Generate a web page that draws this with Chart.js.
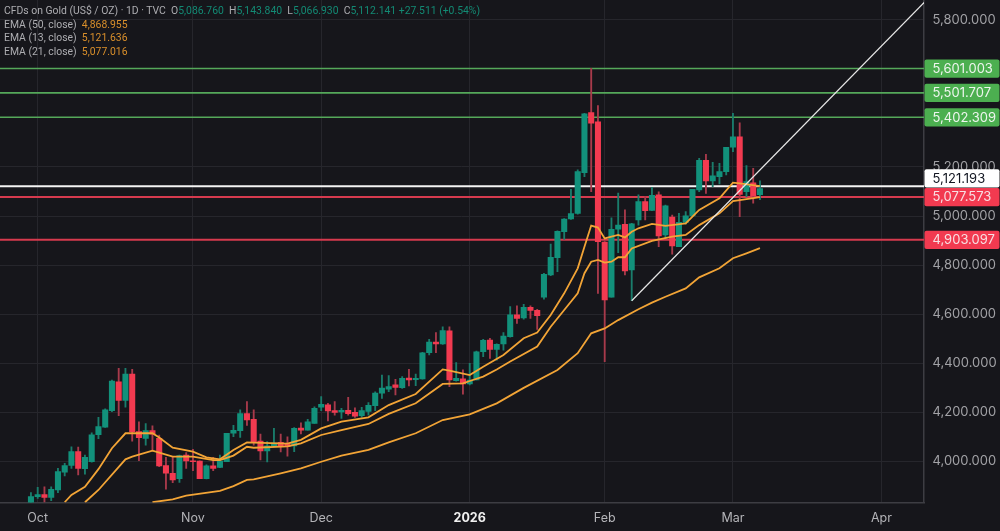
<!DOCTYPE html>
<html>
<head>
<meta charset="utf-8">
<title>CFDs on Gold</title>
<script src="https://cdn.jsdelivr.net/npm/chart.js@4/dist/chart.umd.min.js"></script>
<style>
    html, body { margin: 0; padding: 0; background: #16161b; overflow: hidden; }
    #wrap { position: relative; width: 1000px; height: 531px; }
    canvas { display: block; }
    #legend { position: absolute; left: 4px; top: 4px; font: 10.4px/13.6px Roboto, sans-serif; color: #adadb1; white-space: pre; }
    #legend .g { color: #138a74; }
    #legend .o { color: #d98f2b; }
</style>
</head>
<body>
<div id="wrap">
    <canvas id="goldChart" width="1000" height="531"></canvas>
    <div id="legend"></div>
</div>
<script>
// candles, first one (index -1) sits just left of the Oct tick
const opens = [3820,3857,3865,3854,3884,3957,3984,4040,3971,3999,4109,4140,4207,4325,4249,4356,4122,4094,4126,4094,3983,3952,3930,4026,4003,4002,3930,3982,3976,3999,4115,4126,4195,
    4172,4083,4043,4064,4078,4074,4063,4136,4128,4155,4221,4231,4207,4202,4208,4200,4187,4204,4227,4278,4295,4312,4301,4340,4333,4336,4443,4487,4479,4532,4329,4337,4316,4332,4447,4495,4457,
    4479,4509,4597,4585,4628,4616,4669,4760,4830,4936,4988,5011,5177,5421,5384,4894,4669,4946,4966,4780,4984,5059,5023,5086,4923,4996,4875,4974,5000,5106,5227,5143,5160,5181,5280,5323,5099,5135,5086.76];
const highs = [3873,3895,3897,3897,3972,3993,4060,4059,4026,4117,4180,4215,4332,4380,4380,4375,4162,4155,4145,4108,4017,4017,4026,4036,4050,4003,3986,4017,4026,4115,4147,4210,4244,
    4210,4112,4081,4135,4112,4101,4138,4158,4172,4223,4264,4237,4244,4217,4261,4219,4221,4240,4284,4352,4350,4335,4346,4375,4356,4445,4498,4525,4549,4549,4403,4373,4400,4450,4498,4502,4479,
    4525,4631,4634,4640,4634,4620,4767,4886,4940,4990,5109,5188,5418,5602,5450,4896,4993,5093,5025,4970,5086,5079,5117,5099,5045,5004,5011,5018,5109,5235,5251,5219,5215,5280,5418,5380,5205,5194,5143.84];
const lows = [3820,3850,3834,3840,3873,3941,3972,3945,3948,3997,4093,4139,4203,4187,4221,4083,4003,4067,4047,3979,3887,3914,3915,3972,3963,3930,3929,3963,3975,3999,4101,4098,4147,
    4067,4006,3998,4063,4039,4022,4040,4112,4128,4155,4207,4165,4189,4176,4189,4180,4180,4189,4207,4257,4284,4271,4298,4308,4309,4335,4434,4443,4477,4305,4327,4274,4312,4332,4427,4420,4413,
    4454,4506,4563,4580,4583,4538,4661,4757,4773,4905,4986,5008,5160,5099,4685,4407,4669,4851,4760,4655,4963,4984,5022,4875,4909,4845,4875,4967,4997,5099,5092,5120,5131,5167,5262,4997,5079,5052,5066.93];
const closes = [3857,3865,3854,3887,3959,3983,4040,3972,4017,4109,4142,4210,4328,4249,4356,4122,4097,4126,4111,3982,3952,3925,4024,4002,3999,3930,3982,3972,4002,4115,4127,4195,4169,
    4078,4043,4064,4075,4064,4060,4135,4128,4162,4217,4233,4206,4200,4208,4195,4185,4207,4229,4279,4299,4305,4302,4339,4332,4339,4443,4487,4479,4533,4332,4339,4316,4332,4447,4494,4457,4477,
    4511,4598,4583,4628,4615,4594,4762,4832,4938,4988,5010,5181,5416,5378,4896,4658,4946,4963,4776,4968,5059,5022,5084,4919,5042,4878,4974,5001,5109,5227,5143,5164,5181,5280,5323,5088,5140,5083,5112.141];

// EMA lines read at their visible bends
const ema13Idx = [4,5,7,9,11,13,17,18,20,23,25,27,29,31,32,37,39,42,45,49,52,56,60,61,64,66,69,72,74,76,78,80,81,82,83,84,85,86,87,88,89,91,93,96,98,101,103,104,107];
const ema13 = [3834,3864,3897,3969,4054,4115,4115,4098,4056,4040,4017,4009,4047,4078,4077,4073,4088,4135,4162,4180,4230,4275,4375,4370,4352,4386,4434,4502,4525,4597,4685,4787,4875,4961,4953,4909,4916,4923,4913,4936,4950,4968,4960,4970,5025,5072,5136,5133,5121.636];
const ema21Idx = [7,9,13,14,17,18,20,23,26,27,29,31,32,37,39,42,45,49,52,56,60,63,64,66,68,70,74,76,78,80,81,82,83,84,85,86,87,88,91,94,96,98,101,103,104,107];
const ema21 = [3834,3884,4009,4020,4044,4036,4020,4020,4006,4006,4024,4060,4056,4062,4074,4108,4128,4153,4194,4237,4316,4318,4328,4346,4375,4407,4468,4549,4617,4685,4767,4814,4821,4810,4814,4832,4832,4868,4899,4916,4923,4963,5011,5061,5065,5077.016];
const ema50Idx = [17,20,22,27,29,31,32,36,39,42,45,49,52,56,60,64,68,72,77,80,82,84,86,89,91,93,96,98,101,103,105,107];
const ema50 = [3834,3846,3861,3880,3900,3925,3927,3952,3972,3999,4024,4047,4078,4115,4169,4192,4237,4300,4373,4441,4522,4542,4576,4620,4647,4671,4705,4750,4787,4828,4848,4868.955];

const trendIdx = [88, 131.5];
const trendVals = [4655, 5875];

const greenLevels = [5601.003, 5501.707, 5402.309];
const redLevels = [5077.573, 4903.097];
const whiteLevel = 5121.193;

const yTicks = [4000, 4200, 4400, 4600, 4800, 5000, 5200, 5400, 5600, 5800];
const monthIdx = [0, 23, 42, 64, 84, 103, 125];
const monthLabels = ['Oct', 'Nov', 'Dec', '2026', 'Feb', 'Mar', 'Apr'];

const headerLines = [
    [['CFDs on Gold (US$ / OZ) · 1D · TVC  ', ''], ['O', ''], ['5,086.760', 'g'], ['  H', ''], ['5,143.840', 'g'], ['  L', ''], ['5,066.930', 'g'], ['  C', ''], ['5,112.141', 'g'], [' +27.511 (+0.54%)', 'g']],
    [['EMA (50, close)  ', ''], ['4,868.955', 'o']],
    [['EMA (13, close)  ', ''], ['5,121.636', 'o']],
    [['EMA (21, close)  ', ''], ['5,077.016', 'o']]
];

const UP = '#12917b';
const DOWN = '#f23a50';
const UP_WICK = '#1a7d6c';
const DOWN_WICK = '#a83a4b';
const EMA_COLOR = '#f2a436';

const legend = document.getElementById('legend');
headerLines.forEach(parts => {
    const line = document.createElement('div');
    parts.forEach(p => {
        const s = document.createElement('span');
        s.textContent = p[0];
        if (p[1]) s.className = p[1];
        line.appendChild(s);
    });
    legend.appendChild(line);
});

const candleIdx = closes.map((c, i) => i - 1);
const isUp = closes.map((c, i) => c >= opens[i]);
const xy = (xs, ys) => xs.map((x, i) => ({ x: x, y: ys[i] }));

const xMin = -37.7 / 6.75;
const xMax = (924 - 37.7) / 6.75;

function levelDataset(value, color, width) {
    return {
        type: 'line',
        data: [{ x: xMin, y: value }, { x: xMax, y: value }],
        borderColor: color,
        borderWidth: width,
        pointRadius: 0,
        order: 5
    };
}

function emaDataset(xs, ys) {
    return {
        type: 'line',
        data: xy(xs, ys),
        borderColor: EMA_COLOR,
        borderWidth: 1.8,
        pointRadius: 0,
        order: 2
    };
}

// price tags on the right axis, the white one sits above its line so it clears the red tag
const priceTags = {
    id: 'priceTags',
    afterDraw(chart) {
        const c = chart.ctx;
        const yScale = chart.scales.y;
        const tags = [];
        greenLevels.forEach(v => tags.push([v, '#4caf50', '#eef5ee', 0]));
        tags.push([whiteLevel, '#ffffff', '#131722', -8]);
        redLevels.forEach(v => tags.push([v, '#f23a50', '#f8e0e3', 0]));
        tags.forEach(t => {
            const y = yScale.getPixelForValue(t[0]) + t[3];
            c.save();
            c.fillStyle = t[1];
            c.beginPath();
            c.roundRect(924.5, y - 9, 75, 18.2, 2);
            c.fill();
            c.fillStyle = t[2];
            c.font = '13px Inter';
            c.textBaseline = 'middle';
            c.fillText(t[0].toLocaleString('en-US', { minimumFractionDigits: 3 }), 932.5, y + 0.5);
            c.restore();
        });
    }
};

const ctx = document.getElementById('goldChart').getContext('2d');
new Chart(ctx, {
    type: 'bar',
    data: {
        datasets: [
            levelDataset(greenLevels[0], '#55a85a', 1.7),
            levelDataset(greenLevels[1], '#55a85a', 1.7),
            levelDataset(greenLevels[2], '#55a85a', 1.7),
            levelDataset(whiteLevel, '#f4f4f4', 2.2),
            levelDataset(redLevels[0], '#d63a4e', 2),
            levelDataset(redLevels[1], '#d63a4e', 2),
            {
                data: candleIdx.map((x, i) => ({ x: x, y: [lows[i], highs[i]] })),
                backgroundColor: isUp.map(u => u ? UP_WICK : DOWN_WICK),
                barThickness: 1.2,
                grouped: false,
                order: 4
            },
            {
                data: candleIdx.map((x, i) => ({ x: x, y: [opens[i], closes[i]] })),
                backgroundColor: isUp.map(u => u ? UP : DOWN),
                barThickness: 5.4,
                grouped: false,
                order: 3
            },
            emaDataset(ema13Idx, ema13),
            emaDataset(ema21Idx, ema21),
            emaDataset(ema50Idx, ema50),
            {
                type: 'line',
                data: xy(trendIdx, trendVals),
                borderColor: '#e8e8e8',
                borderWidth: 1.2,
                pointRadius: 0,
                order: 1
            }
        ]
    },
    options: {
        responsive: false,
        animation: false,
        layout: { padding: 0 },
        plugins: { legend: { display: false }, tooltip: { enabled: false } },
        scales: {
            x: {
                type: 'linear',
                min: xMin,
                max: xMax,
                offset: false,
                grid: { offset: false, color: '#26262c', lineWidth: 1, drawTicks: false },
                border: { color: '#3d3d43', width: 1.5 },
                afterBuildTicks: s => { s.ticks = monthIdx.map(v => ({ value: v })); },
                afterFit: s => { s.height = 28.5; s.paddingLeft = 0; s.paddingRight = 0; },
                ticks: {
                    autoSkip: false,
                    maxRotation: 0,
                    padding: 8,
                    callback: v => monthLabels[monthIdx.indexOf(v)],
                    color: c => c.index === 3 ? '#f0f0f0' : '#b4b4b8',
                    font: c => ({ family: 'Inter', size: 12.5, weight: c.index === 3 ? 'bold' : 'normal' })
                }
            },
            y: {
                position: 'right',
                min: 3833,
                max: 5880,
                grid: { color: '#26262c', lineWidth: 1, drawTicks: false },
                border: { color: '#3d3d43', width: 1.5 },
                afterBuildTicks: s => { s.ticks = yTicks.map(v => ({ value: v })); },
                afterFit: s => { s.width = 76; s.paddingTop = 0; s.paddingBottom = 0; },
                ticks: {
                    padding: 8.5,
                    crossAlign: 'near',
                    callback: v => v.toLocaleString('en-US', { minimumFractionDigits: 3 }),
                    color: '#a2a2a6',
                    font: { family: 'Inter', size: 13 }
                }
            }
        }
    },
    plugins: [priceTags]
});
</script>
</body>
</html>
